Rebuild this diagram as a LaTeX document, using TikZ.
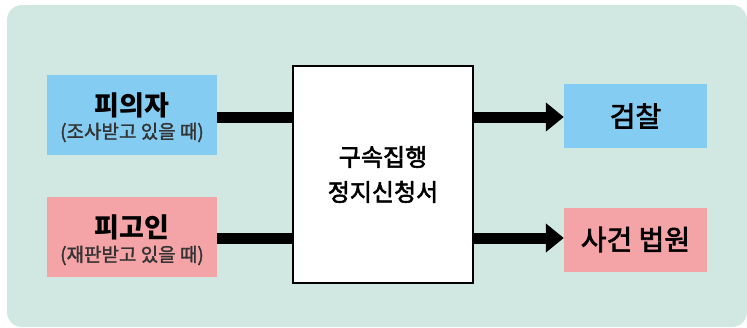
\documentclass[tikz,border=0pt]{standalone}
\usepackage{fontspec}
\usetikzlibrary{arrows.meta}
\newfontfamily\kr{Noto Sans CJK KR}
\newfontfamily\krm[FakeBold=2.5]{Noto Sans CJK KR}
\newfontfamily\krs[FakeBold=1.5]{Noto Sans CJK KR}
\definecolor{bgteal}{HTML}{D0E8E1}
\definecolor{boxblue}{HTML}{85CCF2}
\definecolor{boxpink}{HTML}{F4A3A6}
\definecolor{subgray}{HTML}{333333}
\tikzset{
  srcbox/.style={minimum width=170pt, minimum height=80pt, inner sep=0pt},
  dstbox/.style={minimum width=143pt, minimum height=64pt, inner sep=0pt, align=center},
  maintxt/.style={inner sep=0pt, font=\kr\fontsize{27}{30}\selectfont\bfseries},
  subtxt/.style={inner sep=0pt, text=subgray, font=\krs\fontsize{19}{22}\selectfont},
  conn/.style={line width=11pt},
  arr/.style={line width=11pt, -{Triangle[length=18pt,width=28pt]}},
}
\begin{document}
\begin{tikzpicture}[x=1pt,y=-1pt,font=\kr]
\useasboundingbox (0,0) rectangle (747,327);
\fill[bgteal, rounded corners=15pt] (7,5) rectangle (747,327);
\node[srcbox, fill=boxblue] (suspect) at (132,115) {};
\node[maintxt] (suspectname) at ([yshift=9.5pt]suspect.center) {피의자};
\node[subtxt] (suspectsub) at ([yshift=-17.5pt]suspect.center) {(조사받고 있을 때)};
\node[srcbox, fill=boxpink] (accused) at (132,237) {};
\node[maintxt] (accusedname) at ([yshift=9.5pt]accused.center) {피고인};
\node[subtxt] (accusedsub) at ([yshift=-18.5pt]accused.center) {(재판받고 있을 때)};
\node[draw=black, line width=2pt, fill=white, minimum width=180pt, minimum height=217pt, inner sep=0pt, align=center,
  font=\krm\fontsize{24}{35}\selectfont] (doc) at (383,174.5) {구속집행\\정지신청서};
\node[dstbox, fill=boxblue, font=\krm\fontsize{28}{30}\selectfont] (prosec) at (635.5,116) {검찰};
\node[dstbox, fill=boxpink, font=\krm\fontsize{28}{30}\selectfont] (court) at (635.5,239.5) {사건 법원};
\draw[conn] (suspect.east |- 0,117) -- (doc.west |- 0,117);
\draw[conn] (accused.east |- 0,238) -- (doc.west |- 0,238);
\draw[arr] (doc.east |- 0,117) -- (prosec.west |- 0,117);
\draw[arr] (doc.east |- 0,238) -- (court.west |- 0,238);
\end{tikzpicture}
\end{document}
